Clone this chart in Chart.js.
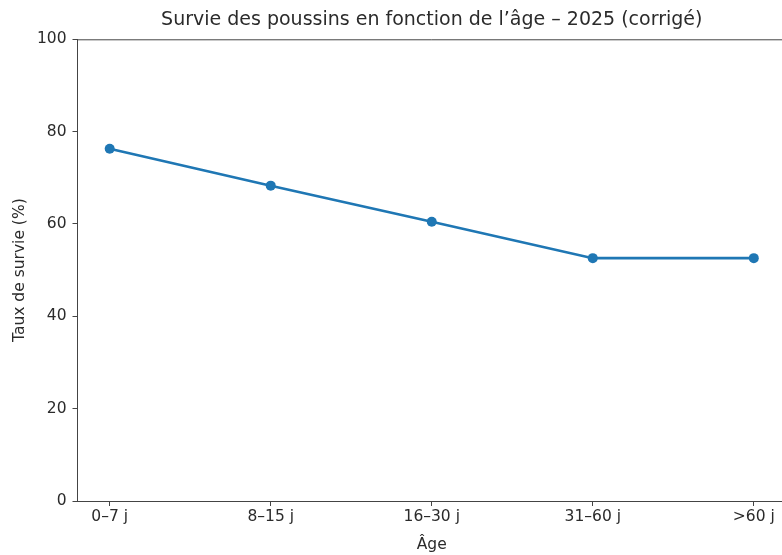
<!DOCTYPE html>
<html>
<head>
<meta charset="utf-8">
<script src="https://cdn.jsdelivr.net/npm/chart.js@4/dist/chart.umd.min.js"></script>
<style>
  html, body { margin: 0; padding: 0; background: #fff; overflow: hidden; }
  #wrap { width: 782px; height: 555px; overflow: hidden; }
</style>
</head>
<body>
<div id="wrap"><canvas id="mychart" width="800" height="555"></canvas></div>
<script>
// données
const categories = ['0–7 j', '8–15 j', '16–30 j', '31–60 j', '>60 j'];
const survie = [76.3, 68.3, 60.5, 52.6, 52.6];
const yTicks = [0, 20, 40, 60, 80, 100];

const txt = '#2b2b2b';
const axe = '#444';
const police = 'DejaVu Sans';

// cadre du haut (spine)
const cadre = {
    id: 'cadre',
    afterDraw(chart) {
        const {ctx, chartArea} = chart;
        ctx.save();
        ctx.strokeStyle = axe;
        ctx.lineWidth = 1;
        ctx.beginPath();
        ctx.moveTo(chartArea.left, chartArea.top + 0.5);
        ctx.lineTo(chartArea.right, chartArea.top + 0.5);
        ctx.stroke();
        ctx.restore();
    }
};

const canvas = document.getElementById('mychart');
const grafico = new Chart(canvas, {
    type: 'line',
    data: {
        datasets: [{
            label: 'Survie',
            data: categories.map((c, i) => ({x: i, y: survie[i]})),
            borderColor: '#1f77b4',
            backgroundColor: '#1f77b4',
            borderWidth: 2.6,
            pointRadius: 5,
            pointHoverRadius: 5,
            pointBorderWidth: 0,
            tension: 0
        }]
    },
    options: {
        responsive: false,
        animation: false,
        layout: { padding: { left: 0, right: 14, top: 0, bottom: 0 } },
        plugins: {
            legend: { display: false },
            tooltip: { enabled: false },
            title: {
                display: true,
                fullSize: false,
                text: 'Survie des poussins en fonction de l’âge – 2025 (corrigé)',
                color: txt,
                font: { family: police, size: 19, weight: 'normal' },
                padding: { top: 9, bottom: 7.5 }
            }
        },
        scales: {
            x: {
                type: 'linear',
                min: -0.2,
                max: 4.2,
                afterBuildTicks: (scale) => {
                    scale.ticks = categories.map((c, i) => ({value: i}));
                },
                afterFit: (scale) => { scale.height = 54; },
                ticks: {
                    callback: (v) => categories[v],
                    color: txt,
                    font: { family: police, size: 15.5 },
                    padding: 2,
                    maxRotation: 0,
                    autoSkip: false
                },
                grid: { drawOnChartArea: false, drawTicks: true, tickLength: 5, color: axe },
                border: { color: axe, width: 1 },
                title: {
                    display: true,
                    text: 'Âge',
                    color: txt,
                    font: { family: police, size: 15.5 },
                    padding: { top: 0, bottom: 1 }
                }
            },
            y: {
                min: 0,
                max: 100,
                afterBuildTicks: (scale) => {
                    scale.ticks = yTicks.map(v => ({value: v}));
                },
                afterFit: (scale) => { scale.width = 77.5; },
                ticks: {
                    color: txt,
                    font: { family: police, size: 15.5 },
                    padding: 6
                },
                grid: { drawOnChartArea: false, drawTicks: true, tickLength: 5, color: axe },
                border: { color: axe, width: 1 },
                title: {
                    display: true,
                    text: 'Taux de survie (%)',
                    color: txt,
                    font: { family: police, size: 15.5 },
                    padding: { top: 10.5, bottom: 0 }
                }
            }
        }
    },
    plugins: [cadre]
});
</script>
</body>
</html>
